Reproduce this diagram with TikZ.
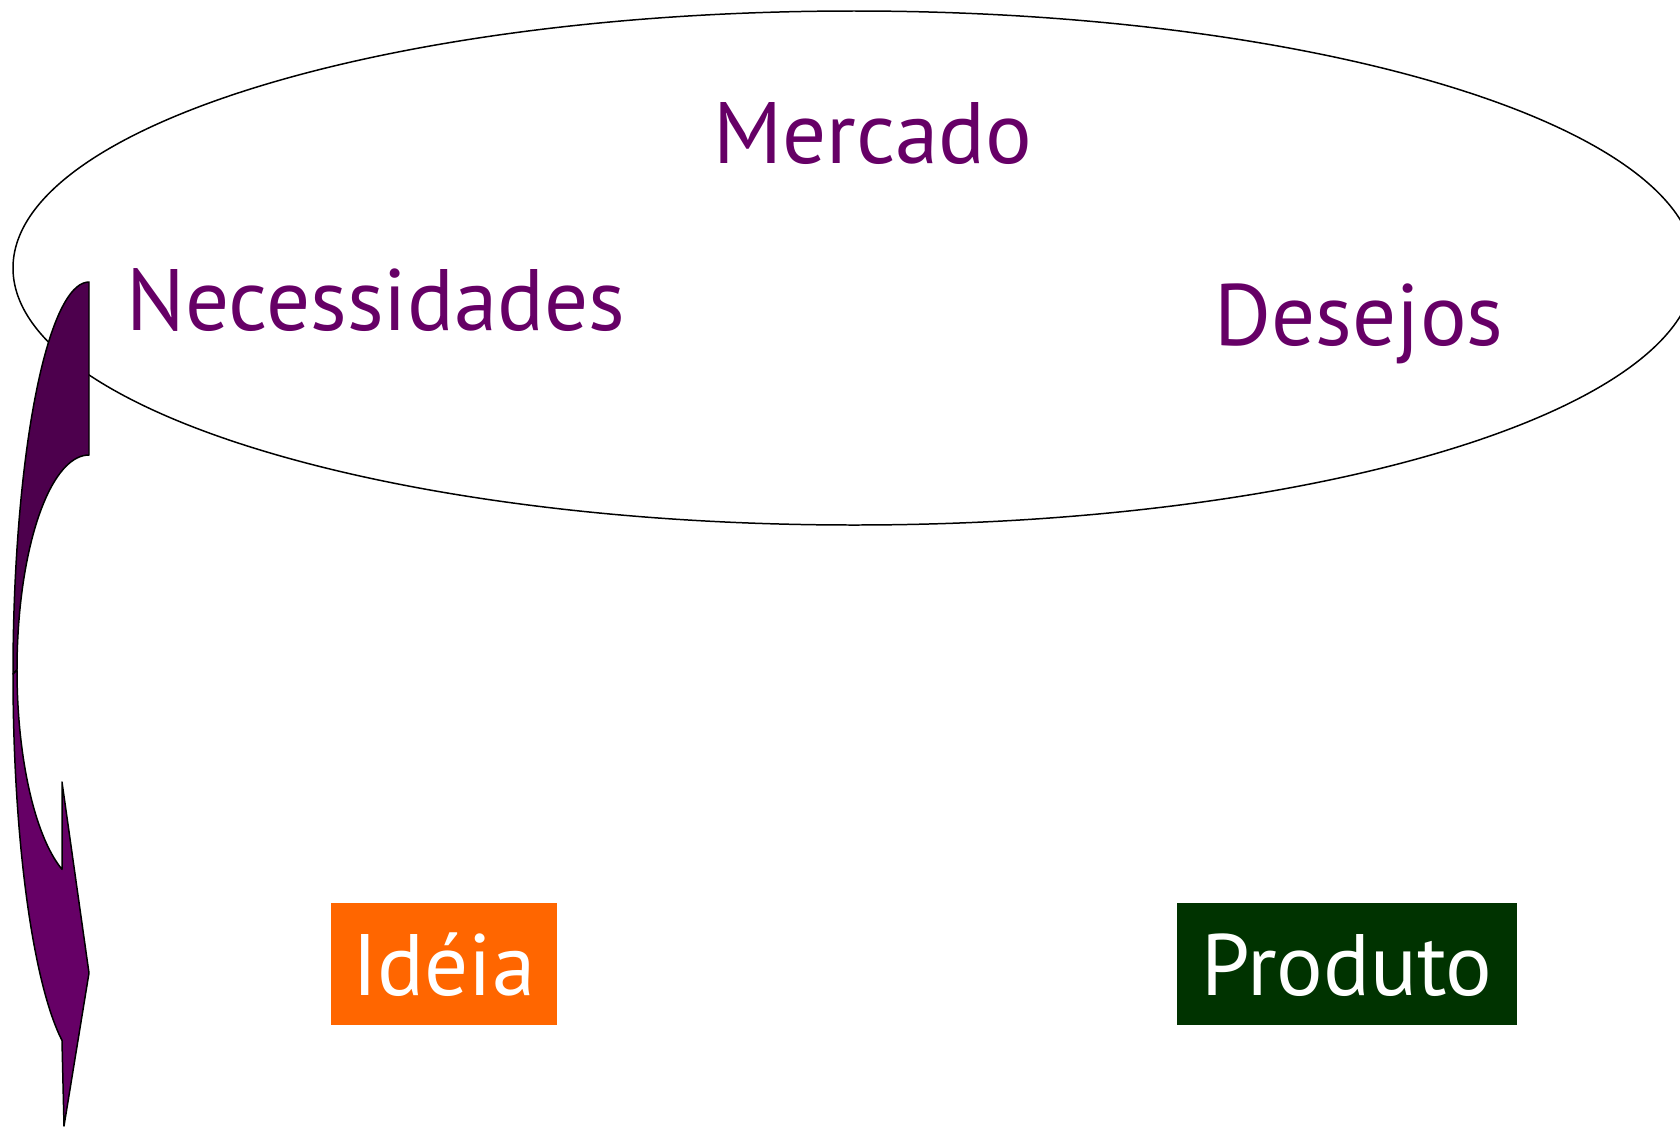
\documentclass[tikz,border=0pt]{standalone}
\usepackage{fontspec}
\setmainfont{PT Sans}

\definecolor{roxo}{HTML}{660066}
\definecolor{roxoescuro}{HTML}{4D004D}
\definecolor{laranja}{HTML}{FF6600}
\definecolor{verde}{HTML}{003300}

\begin{document}
\begin{tikzpicture}[
    x=0.02cm, y=-0.02cm,
    rotulo/.style={font=\fontsize{49.6}{58}\selectfont, text=roxo, inner sep=0pt},
    caixa/.style={font=\fontsize{49.6}{58}\selectfont, text=white, inner sep=0pt,
        minimum height=2.44cm, text height=45pt, text depth=9pt},
    faixa/.style={draw=black, line width=0.85pt, line join=round}
]
    % area da figura
    \useasboundingbox (0,0) rectangle (1680,1126);
    \clip (0,0) rectangle (1680,1126);

    % elipse do mercado
    \draw[line width=0.85pt] (854,268) ellipse [x radius=841, y radius=257];

    % textos dentro da elipse
    \node[rotulo, anchor=base] (mercado) at (873,163) {Mercado};
    \node[rotulo, anchor=base] (necessidades) at (376,330) {Necessidades};
    \node[rotulo, anchor=base] (desejos) at (1359,345) {Desejos};

    % seta curva: parte de tras
    \filldraw[faixa, fill=roxoescuro]
        plot[domain=270:180, samples=40, smooth] ({89+76*cos(\x)},{674+392*sin(\x)})
        -- plot[domain=180:270, samples=40, smooth] ({89+72*cos(\x)},{670+215*sin(\x)})
        -- cycle;

    % seta curva: parte da frente com a ponta
    \filldraw[faixa, fill=roxo]
        plot[domain=180:112, samples=30, smooth] ({89+72*cos(\x)},{670+215*sin(\x)})
        -- (62,782) -- (89,973) -- (64,1126) -- (62,1041)
        -- plot[domain=110.8:180, samples=30, smooth] ({89+76*cos(\x)},{674+392*sin(\x)})
        -- cycle;

    % caixas de baixo
    \node[caixa, fill=laranja, minimum width=4.52cm] (ideia) at (444,964) {Idéia};
    \node[caixa, fill=verde, minimum width=6.82cm] (produto) at (1347,964) {Produto};

\end{tikzpicture}
\end{document}
